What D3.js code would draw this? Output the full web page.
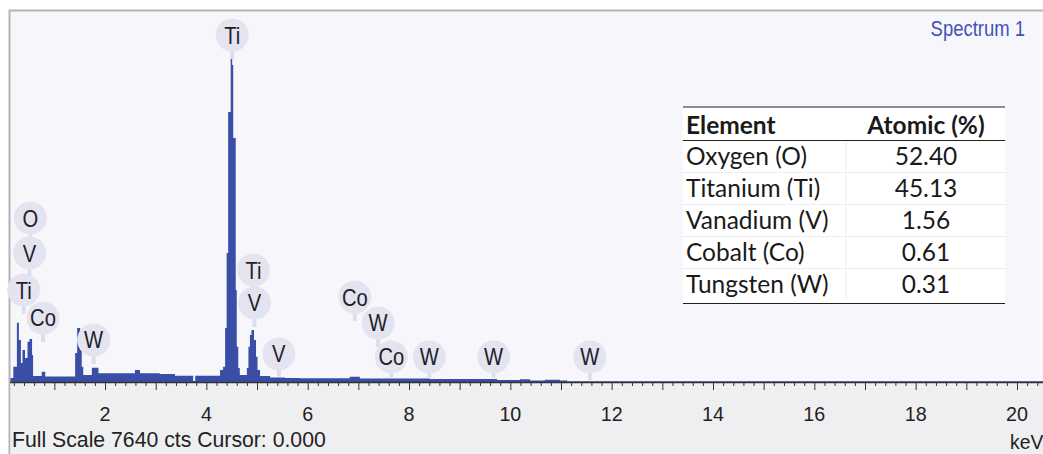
<!DOCTYPE html>
<html>
<head>
<meta charset="utf-8">
<script src="https://cdn.jsdelivr.net/npm/d3@7/dist/d3.min.js"></script>
<style>
  html, body { margin: 0; padding: 0; background: #ffffff; }
  svg { display: block; }
</style>
</head>
<body>
<svg id="chart" width="1043" height="454"></svg>
<script>
// EDS spectrum: bin start energies (keV) and counts per bin
const energyKeV = [0.12,0.19,0.26,0.30,0.34,0.37,0.42,0.47,0.51,0.56,0.58,0.75,0.82,1.41,1.45,1.51,1.54,1.57,1.74,1.87,
  2.59,2.69,3.08,3.38,3.74,3.78,4.27,4.33,4.37,4.40,4.43,4.48,4.51,4.53,4.58,4.60,4.63,4.66,4.80,4.83,
  4.86,4.89,4.94,4.98,5.01,5.06,5.26,5.55,5.85,6.83,7.03,8.41,9.74,10.19,10.39,10.68,10.98,11.12,20.6];
const counts = [82,315,1222,865,391,659,494,830,886,556,124,212,113,597,1112,659,315,144,295,179,
  247,179,165,130,20,130,247,315,1112,2656,5560,6670,6528,5024,1895,727,288,144,288,727,
  968,1071,865,521,247,124,93,82,76,109,72,62,41,56,31,47,31,14,14];

// Peak identification markers
const peakLabels = ['O','V','Ti','Co','W','Ti','Ti','V','V','Co','W','Co','W','W','W'];
const peakEnergies = [0.525,0.511,0.395,0.776,1.775,4.51,4.93,4.95,5.43,6.93,7.39,7.65,8.40,9.67,11.57];
const markerCounts = [3377,2656,1894,1318,865,7145,2306,1627,577,1750,1215,515,515,515,515];

// Quantification table
const tableElements = ['Oxygen (O)','Titanium (Ti)','Vanadium (V)','Cobalt (Co)','Tungsten (W)'];
const atomicPercent = ['52.40','45.13','1.56','0.61','0.31'];

const fullScale = 7640;
const axisLabels = [2,4,6,8,10,12,14,16,18,20];

const svg = d3.select('#chart');
const W = 1043, H = 454;
const plotLeft = 10, plotTop = 11, axisY = 382;
const sans = '"Liberation Sans", Arial, sans-serif';
const tableFont = 'Lato, "Open Sans", sans-serif';

const x = d3.scaleLinear().domain([0, 20]).range([3.7, 1017]);
const y = d3.scaleLinear().domain([0, fullScale]).range([axisY, plotTop]);

// text drawn with a horizontally narrowed face
function narrowText(parent, tx, ty, str, size, squeeze, anchor, fill) {
  return parent.append('text')
    .attr('transform', `translate(${tx},${ty}) scale(${squeeze},1)`)
    .attr('text-anchor', anchor)
    .attr('font-family', sans).attr('font-size', size).attr('fill', fill)
    .text(str);
}

// frame and backgrounds
svg.append('rect').attr('x', 0).attr('y', 0).attr('width', W).attr('height', H).attr('fill', '#ffffff');
svg.append('rect').attr('x', plotLeft - 0.5).attr('y', plotTop - 0.5).attr('width', W).attr('height', H)
  .attr('fill', '#f7f7fb').attr('stroke', '#b4b4b8').attr('stroke-width', 2);
svg.append('rect').attr('x', plotLeft + 0.5).attr('y', axisY).attr('width', W).attr('height', H - axisY)
  .attr('fill', '#efeff1');

svg.append('clipPath').attr('id', 'plotClip').append('rect')
  .attr('x', plotLeft + 0.5).attr('y', plotTop).attr('width', W - plotLeft).attr('height', axisY - plotTop);

// spectrum area
const spectrum = energyKeV.map((e, i) => ({ e, c: counts[i] }));
const area = d3.area()
  .x(d => x(d.e))
  .y0(y(0))
  .y1(d => y(d.c))
  .curve(d3.curveStepAfter);
svg.append('path')
  .datum(spectrum)
  .attr('clip-path', 'url(#plotClip)')
  .attr('d', area)
  .attr('fill', '#3a4ea8');

// count level of the spectrum at a given energy
function countAt(e) {
  const i = d3.bisectRight(energyKeV, e) - 1;
  return i >= 0 ? counts[i] : 0;
}

// axis
const xAxisG = svg.append('g').attr('transform', `translate(0,${axisY})`);
xAxisG.append('line').attr('x1', plotLeft).attr('x2', W).attr('y1', 0.5).attr('y2', 0.5)
  .attr('stroke', '#333').attr('stroke-width', 1.5);
const minor = d3.range(1, 104).map(i => i * 0.2).filter(v => Math.abs(v - Math.round(v)) > 1e-6 && x(v) > plotLeft);
const major = d3.range(1, 21);
xAxisG.append('g').call(d3.axisBottom(x).tickValues(minor).tickSize(4).tickFormat(''))
  .call(g => g.select('.domain').remove())
  .call(g => g.selectAll('line').attr('stroke', '#333'));
xAxisG.append('g').call(d3.axisBottom(x).tickValues(major).tickSize(8).tickFormat(''))
  .call(g => g.select('.domain').remove())
  .call(g => g.selectAll('line').attr('stroke', '#333'));
axisLabels.forEach(v => narrowText(svg, x(v), 421, String(v), 21, 0.94, 'middle', '#222'));

narrowText(svg, 1010, 449, 'keV', 21, 0.92, 'start', '#222');
narrowText(svg, 12, 447, `Full Scale ${fullScale} cts Cursor: 0.000`, 22, 0.965, 'start', '#222');
narrowText(svg, 1025, 36, 'Spectrum 1', 22, 0.84, 'end', '#4152b4');

// peak markers
const markers = peakLabels.map((lab, i) => ({ lab, e: peakEnergies[i], c: markerCounts[i] }));
const mg = svg.append('g');
markers.forEach(m => {
  const cx = x(m.e), cy = y(m.c);
  const g = mg.append('g');
  const stemEnd = Math.min(cy + 24, y(countAt(m.e)) - 1);
  g.append('line').attr('x1', cx).attr('x2', cx).attr('y1', cy).attr('y2', stemEnd)
    .attr('stroke', '#dedeeb').attr('stroke-width', 4);
  g.append('circle').attr('cx', cx).attr('cy', cy).attr('r', 16.5).attr('fill', '#e4e4f0');
  narrowText(g, cx, cy + 8.5, m.lab, 23.5, 0.86, 'middle', '#1e1e28');
});

// quantification table
const tx0 = 683, tx1 = 1005, colDiv = 846, valCenter = 926;
const tTop = 107, headBottom = 140.5, rowH = 32;
const tg = svg.append('g');
tg.append('rect').attr('x', tx0).attr('y', tTop).attr('width', tx1 - tx0).attr('height', headBottom + rowH * 5 - tTop + 3)
  .attr('fill', '#ffffff');
tableElements.forEach((name, i) => {
  const rowTop = headBottom + i * rowH;
  if (i > 0) tg.append('line').attr('x1', tx0).attr('x2', tx1).attr('y1', rowTop).attr('y2', rowTop)
    .attr('stroke', '#eeeeee').attr('stroke-width', 1);
  tg.append('text').attr('x', 686).attr('y', rowTop + 24.5)
    .attr('font-family', tableFont).attr('font-size', 24.5).attr('fill', '#1a1a1a')
    .text(name);
  tg.append('text').attr('x', valCenter).attr('y', rowTop + 24.5).attr('text-anchor', 'middle')
    .attr('font-family', tableFont).attr('font-size', 24.5).attr('fill', '#1a1a1a')
    .text(atomicPercent[i]);
});
tg.append('line').attr('x1', colDiv).attr('x2', colDiv).attr('y1', headBottom).attr('y2', headBottom + rowH * 5)
  .attr('stroke', '#eeeeee');
tg.append('text').attr('x', 686).attr('y', 133.5)
  .attr('font-family', tableFont).attr('font-size', 24.5).attr('font-weight', 'bold').attr('fill', '#1a1a1a')
  .text('Element');
tg.append('text').attr('x', valCenter).attr('y', 133.5).attr('text-anchor', 'middle')
  .attr('font-family', tableFont).attr('font-size', 24.5).attr('font-weight', 'bold').attr('fill', '#1a1a1a')
  .text('Atomic (%)');
[tTop, headBottom, headBottom + rowH * 5 + 3].forEach((yy, i) => {
  tg.append('line').attr('x1', tx0).attr('x2', tx1).attr('y1', yy).attr('y2', yy)
    .attr('stroke', '#222').attr('stroke-width', i === 0 ? 1.2 : 1);
});
</script>
</body>
</html>
